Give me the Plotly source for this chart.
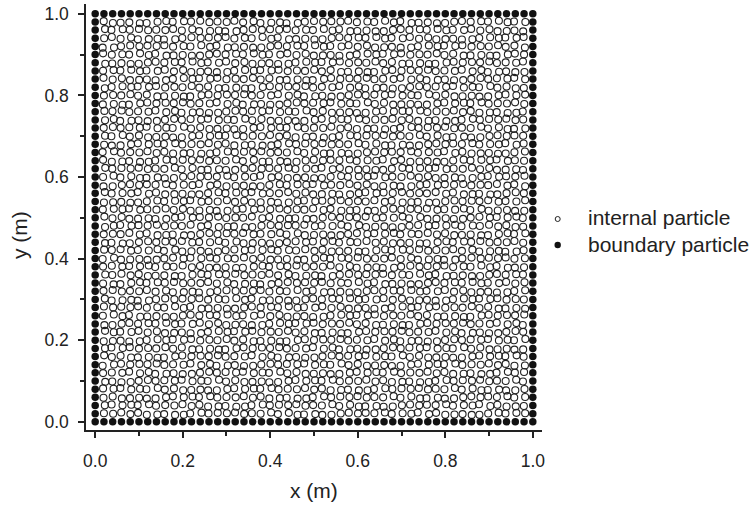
import plotly.graph_objects as go

# Particle lattice nodes (m) along each side of the unit square
grid = [0.00, 0.02, 0.04, 0.06, 0.08, 0.10, 0.12, 0.14, 0.16, 0.18,
        0.20, 0.22, 0.24, 0.26, 0.28, 0.30, 0.32, 0.34, 0.36, 0.38,
        0.40, 0.42, 0.44, 0.46, 0.48, 0.50, 0.52, 0.54, 0.56, 0.58,
        0.60, 0.62, 0.64, 0.66, 0.68, 0.70, 0.72, 0.74, 0.76, 0.78,
        0.80, 0.82, 0.84, 0.86, 0.88, 0.90, 0.92, 0.94, 0.96, 0.98, 1.00]

# Small hand-read displacements of internal particles from lattice nodes (m)
dx_offsets = [0.000, 0.0025, -0.002, 0.001, -0.003, 0.002, -0.0005,
              0.003, -0.0025, 0.0005, -0.001, 0.0025, -0.002]
dy_offsets = [0.001, -0.0025, 0.0005, 0.003, -0.001, -0.003, 0.002, 0.000,
              -0.002, 0.0025, -0.0005, 0.002, -0.0025, 0.001, 0.003, -0.001, 0.0005]

tick_vals = [0.0, 0.2, 0.4, 0.6, 0.8, 1.0]
tick_text = ["0.0", "0.2", "0.4", "0.6", "0.8", "1.0"]
legend_names = ["internal particle", "boundary particle"]

# Boundary particles: the four edges of the square
bx, by = [], []
for g in grid:
    bx += [g, g]
    by += [grid[0], grid[-1]]
for g in grid[1:-1]:
    bx += [grid[0], grid[-1]]
    by += [g, g]

# Internal particles
inner = grid[1:-1]
ix, iy = [], []
for i, gx in enumerate(inner):
    for j, gy in enumerate(inner):
        ix.append(gx + dx_offsets[(i * 3 + j * 5) % len(dx_offsets)])
        iy.append(gy + dy_offsets[(i * 7 + j * 2) % len(dy_offsets)])

FONT = "Liberation Sans, Arial"
INK = "#222222"
W, H = 752, 506
ML, MR, MT, MB = 86, 210, 4, 76
PW, PH = W - ML - MR, H - MT - MB


def px2x(px):
    return (px - ML) / PW


def py2y(py):
    return (H - MB - py) / PH


fig = go.Figure()
fig.add_trace(go.Scatter(
    x=ix, y=iy, mode="markers", name=legend_names[0], showlegend=False,
    marker=dict(symbol="circle-open", size=7, color=INK,
                line=dict(width=1.1, color=INK))))
fig.add_trace(go.Scatter(
    x=bx, y=by, mode="markers", name=legend_names[1], showlegend=False,
    marker=dict(symbol="circle", size=7.5, color="#111111", line=dict(width=0))))

axis_common = dict(
    showgrid=False, zeroline=False, showline=True, linecolor=INK,
    linewidth=1.5, ticks="outside", ticklen=6, tickwidth=1.5,
    tickcolor=INK, tickvals=tick_vals, ticktext=tick_text,
    tickfont=dict(family=FONT, size=17.5, color=INK),
    minor=dict(ticks="outside", ticklen=4, tickwidth=1.5, tickcolor=INK,
               dtick=0.1, showgrid=False),
    mirror=False, automargin=False,
)

# Legend drawn as shapes + text
legend_rows = [(219.0, 2.5, False), (245.0, 3.2, True)]
shapes, annotations = [], []
for (cy, r, filled), name in zip(legend_rows, legend_names):
    cx = 557.7
    shapes.append(dict(
        type="circle", xref="paper", yref="paper",
        x0=px2x(cx - r), x1=px2x(cx + r), y0=py2y(cy + r), y1=py2y(cy - r),
        line=dict(color=INK, width=1 if not filled else 0),
        fillcolor="#111111" if filled else "rgba(0,0,0,0)"))
    annotations.append(dict(
        text=name, xref="paper", yref="paper", x=px2x(585.5), y=py2y(cy - 1),
        xanchor="left", yanchor="middle", showarrow=False,
        font=dict(family=FONT, size=21, color=INK)))

annotations += [
    dict(text="x (m)", xref="paper", yref="paper", x=0.5, y=py2y(490),
         xanchor="center", yanchor="middle", showarrow=False,
         font=dict(family=FONT, size=21, color=INK)),
    dict(text="y (m)", xref="paper", yref="paper", x=px2x(20), y=py2y(235),
         xanchor="center", yanchor="middle", showarrow=False, textangle=-90,
         font=dict(family=FONT, size=21, color=INK)),
]

fig.update_layout(
    width=W, height=H,
    margin=dict(l=ML, r=MR, t=MT, b=MB, autoexpand=False),
    paper_bgcolor="white", plot_bgcolor="white",
    xaxis=dict(range=[-0.021, 1.021], ticklabelstandoff=8, **axis_common),
    yaxis=dict(range=[-0.02, 1.024], ticklabelstandoff=6, **axis_common),
    showlegend=False,
    shapes=shapes,
    annotations=annotations,
)

fig.write_html(
    "out.html",
    config={"displayModeBar": False},
    post_script="document.body.style.margin='0px';document.body.style.overflow='hidden';",
)
